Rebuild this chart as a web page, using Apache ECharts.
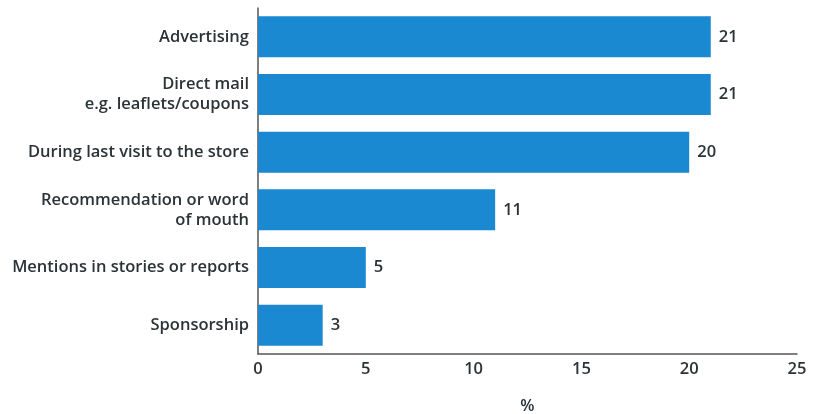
<!DOCTYPE html>
<html><head><meta charset="utf-8">
<script src="https://cdn.jsdelivr.net/npm/echarts@6/dist/echarts.min.js"></script>
<style>html,body{margin:0;padding:0;background:#fff}#c{width:821px;height:414px}</style>
</head><body><div id="c"></div>
<script>
const categories = ["Advertising", "Direct mail\ne.g. leaflets/coupons", "During last visit to the store", "Recommendation or word\nof mouth", "Mentions in stories or reports", "Sponsorship"];
const values = [21, 21, 20, 11, 5, 3];
const xTicks = [0, 5, 10, 15, 20, 25];

const font = "'Open Sans', sans-serif";
const txt = '#2b3337';
const chart = echarts.init(document.getElementById('c'));
chart.setOption({
  animation: false,
  grid: {left: 258, right: 24, top: 8, bottom: 60, containLabel: false, outerBoundsMode: 'none'},
  xAxis: {
    type: 'value', min: 0, max: 25, interval: 5,
    axisLine: {show: true, lineStyle: {color: '#555', width: 1.5}},
    axisTick: {show: false},
    splitLine: {show: false},
    axisLabel: {color: txt, fontFamily: font, fontWeight: 600, fontSize: 16.5, margin: 7,
      formatter: v => xTicks.includes(v) ? String(v) : ''},
    name: '%', nameLocation: 'middle', nameGap: 44,
    nameTextStyle: {color: txt, fontFamily: font, fontWeight: 600, fontSize: 16.5}
  },
  yAxis: {
    type: 'category', data: categories, inverse: true,
    axisLine: {show: true, lineStyle: {color: '#555', width: 1.5}},
    axisTick: {show: false},
    axisLabel: {color: txt, fontFamily: font, fontWeight: 600, fontSize: 16.5, margin: 9, lineHeight: 20, align: 'right'}
  },
  series: [{
    type: 'bar', data: values, barWidth: 41,
    itemStyle: {color: '#1a89d1'},
    label: {show: true, position: 'right', distance: 8, color: txt, fontFamily: font, fontWeight: 600, fontSize: 16.5}
  }]
});
</script></body></html>
